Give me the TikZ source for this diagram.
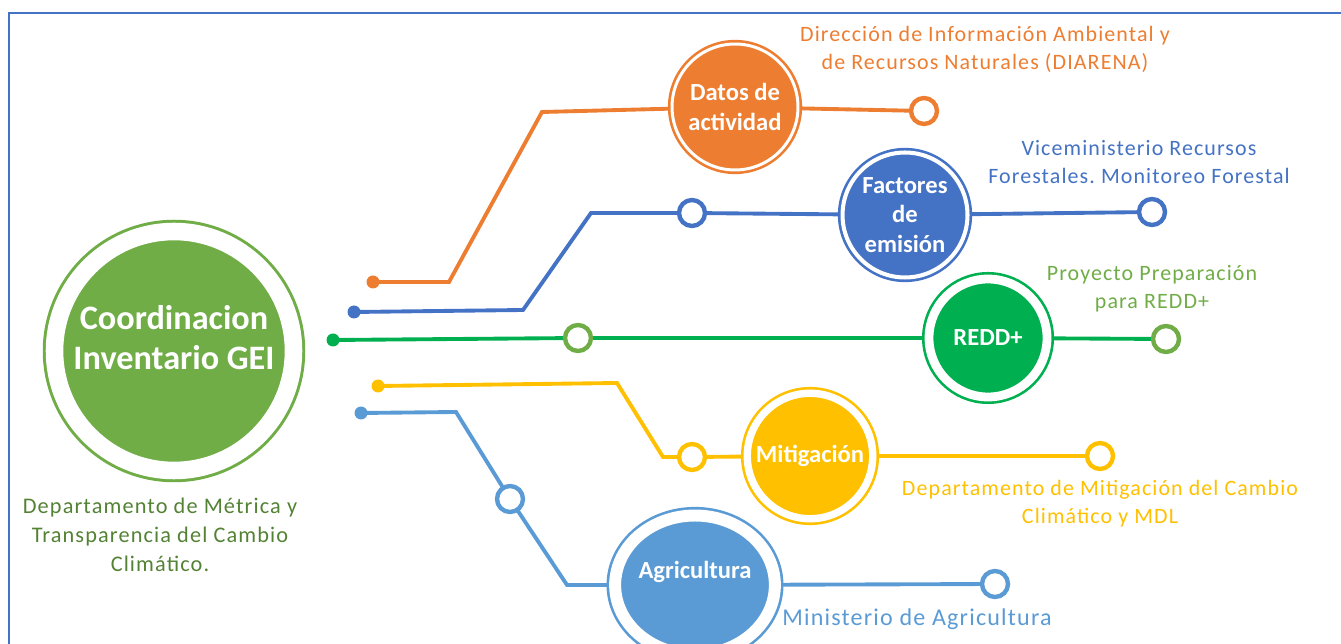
\documentclass[tikz,border=0pt]{standalone}
\usepackage{fontspec}
\setmainfont{Carlito}
\newfontfamily\notefont[LetterSpace=5]{Carlito}
\usetikzlibrary{positioning,shapes.geometric,backgrounds}
\frenchspacing

\definecolor{cOrange}{HTML}{ED7D31}
\definecolor{cBlue}{HTML}{4472C4}
\definecolor{cGreen}{HTML}{00B050}
\definecolor{cLeaf}{HTML}{70AD47}
\definecolor{cGold}{HTML}{FFC000}
\definecolor{cSky}{HTML}{5B9BD5}
\definecolor{cMoss}{HTML}{548235}

\begin{document}
\begin{tikzpicture}[
    x=0.02cm, y=-0.02cm,
    hub/.style={
        circle,% filled disc, white gap, thin outer ring
        draw=#1, fill=#1,
        line width=1.5pt,
        double=white,
        inner sep=0pt,
        text=white,
        align=center,
        font=\bfseries\fontsize{14}{17}\selectfont
    },
    ring/.style={circle, draw=#1, fill=white, line width=2.5pt, minimum size=0.52cm, inner sep=0pt},
    dot/.style={circle, fill=#1, minimum size=0.26cm, inner sep=0pt},
    wire/.style={draw=#1, line width=2.2pt, line join=miter},
    note/.style={text=#1, align=center, font=\notefont\fontsize{12.5}{16}\selectfont}
]
    \useasboundingbox (0,0) rectangle (1341,644);
    \draw[cBlue, line width=1pt] (9,700) -- (9,13) -- (1400,13);

    % Main hub
    \node[hub=cLeaf, line width=1.7pt, double distance=10pt, minimum size=4.78cm,
          text depth=0.55cm, font=\bfseries\fontsize{19.5}{23}\selectfont] (gei) at (174,351)
        {Coordinacion\\Inventario GEI};
    \node[note=cMoss, font=\notefont\fontsize{12.7}{16.5}\selectfont] (geinote) at (160,535)
        {Departamento de Métrica y\\Transparencia del Cambio\\Climático.};

    % Hubs
    \node[hub=cOrange, double distance=1.7pt, minimum size=2.52cm] (datos) at (735,107) {Datos de\\actividad};
    \node[hub=cBlue, double distance=2.3pt, minimum size=2.5cm] (factores) at (905,215) {Factores\\de\\emisión};
    \node[hub=cGreen, double distance=5pt, minimum size=2.36cm] (redd) at (988,338) {REDD+};
    \node[hub=cGold, double distance=4.2pt, minimum size=2.51cm] (mitig) at (810,456) {Mitigación};
    \node[hub=cSky, ellipse, double distance=6.8pt, minimum width=3.02cm, minimum height=2.78cm,
          text depth=0.6cm] (agri) at (695,585) {Agricultura};

    % Start dots
    \node[dot=cOrange] (dOrange) at (373,282) {};
    \node[dot=cBlue] (dBlue) at (354,312) {};
    \node[dot=cGreen] (dGreen) at (333,340) {};
    \node[dot=cGold] (dGold) at (378,386) {};
    \node[dot=cSky] (dSky) at (361,413) {};

    % Rings
    \node[ring=cBlue] (rBlue) at (692,213) {};
    \node[ring=cLeaf] (rGreen) at (578,338) {};
    \node[ring=cGold] (rGold) at (692,457) {};
    \node[ring=cSky] (rSky) at (510,499) {};
    \node[ring=cOrange] (eOrange) at (924,111) {};
    \node[ring=cBlue] (eBlue) at (1152,212) {};
    \node[ring=cLeaf] (eGreen) at (1166,339) {};
    \node[ring=cGold] (eGold) at (1100,456) {};
    \node[ring=cSky] (eSky) at (995,584) {};

    % Bends
    \coordinate (o1) at (449,282);
    \coordinate (o2) at (542,112);
    \coordinate (b1) at (523,310);
    \coordinate (b2) at (591,213);
    \coordinate (g1) at (617,383);
    \coordinate (g2) at (663,457);
    \coordinate (s1) at (456,412);
    \coordinate (s2) at (567,585);

    % Labels
    \node[note=cOrange] (diarena) at (985,49)
        {Dirección de Información Ambiental y\\de Recursos Naturales (DIARENA)};
    \node[note=cBlue] (vicemin) at (1139,162)
        {Viceministerio Recursos\\Forestales. Monitoreo Forestal};
    \node[note=cLeaf] (proyecto) at (1152,289)
        {Proyecto Preparación\\para REDD+};
    \node[note=cGold] (mdl) at (1100,504)
        {Departamento de Mitigación del Cambio\\Climático y MDL};
    \node[note=cSky, font=\notefont\fontsize{13.7}{17}\selectfont] (minagri) at (917,619)
        {Ministerio de Agricultura};

    % Connections
    \begin{scope}[on background layer]
        \draw[wire=cOrange] (dOrange.center) -- (o1) -- (o2) -- (datos.center) -- (eOrange.center);
        \draw[wire=cBlue] (dBlue.center) -- (b1) -- (b2) -- (rBlue.center) -- (factores.center) -- (eBlue.center);
        \draw[wire=cGreen] (dGreen.center) -- (rGreen.center) -- (redd.center) -- (eGreen.center);
        \draw[wire=cGold] (dGold.center) -- (g1) -- (g2) -- (rGold.center) -- (mitig.center) -- (eGold.center);
        \draw[wire=cSky] (dSky.center) -- (s1) -- (rSky.center) -- (s2) -- (agri.center) -- (eSky.center);
    \end{scope}
\end{tikzpicture}
\end{document}
